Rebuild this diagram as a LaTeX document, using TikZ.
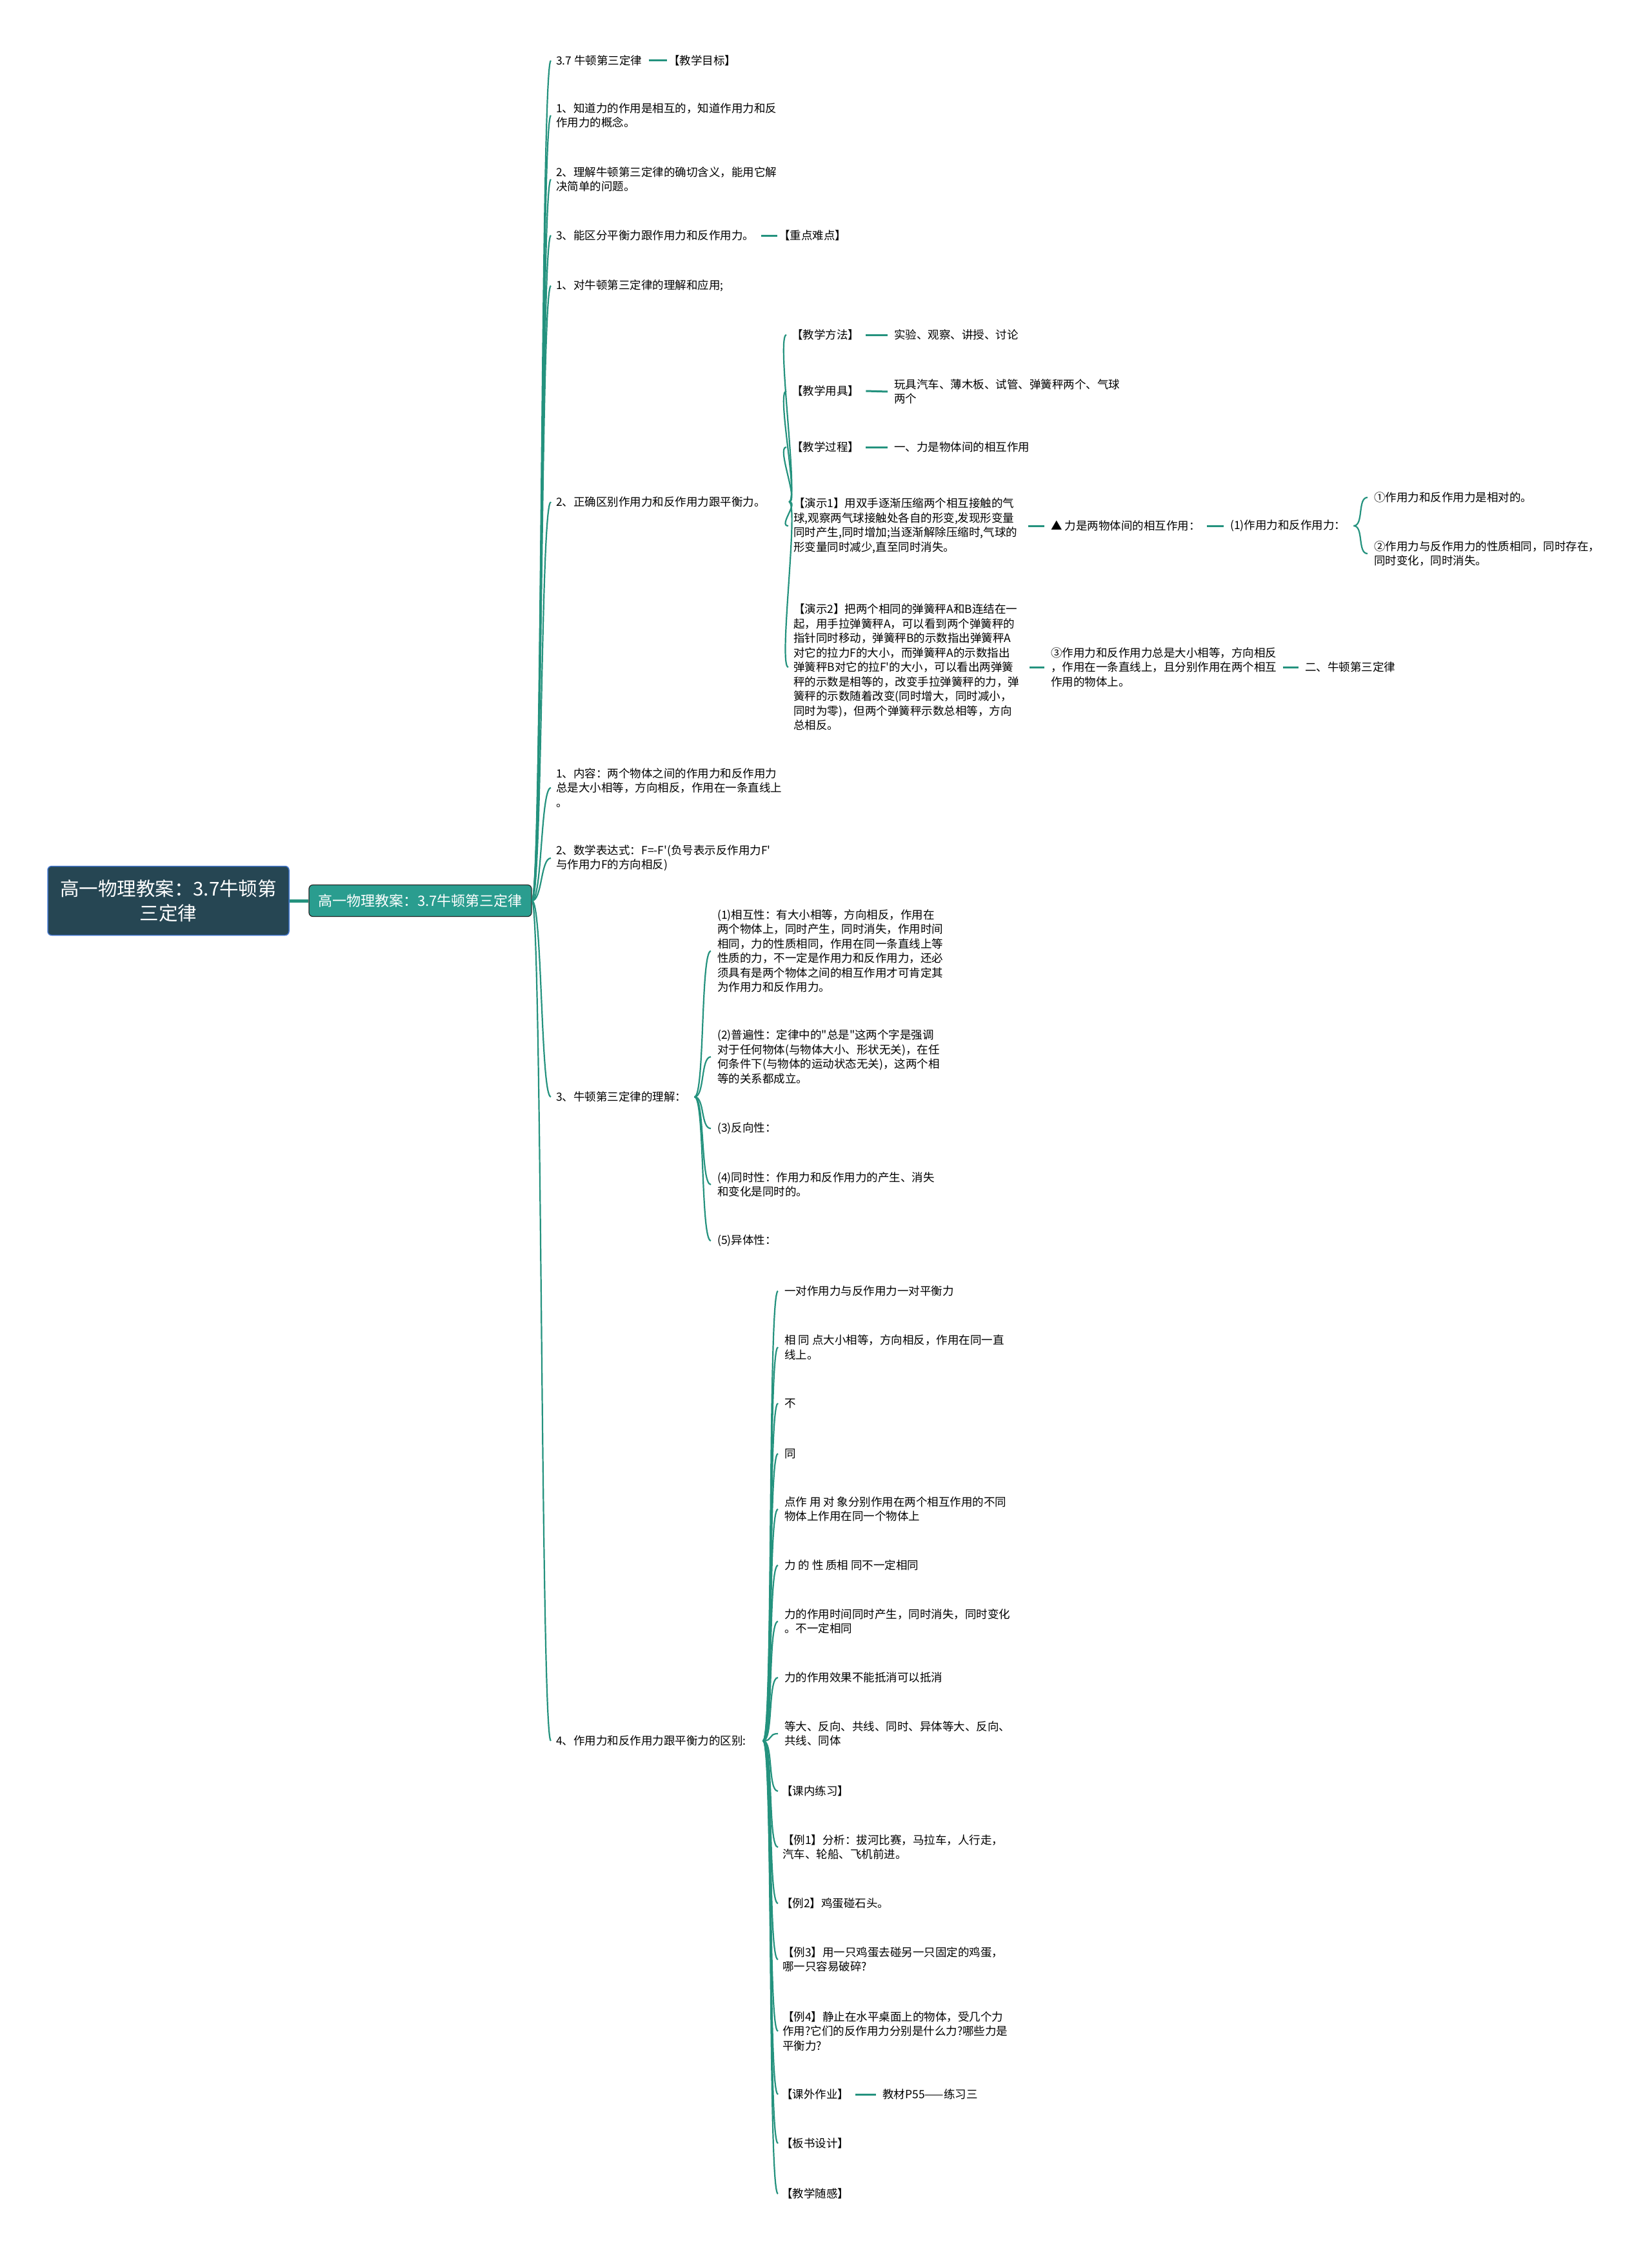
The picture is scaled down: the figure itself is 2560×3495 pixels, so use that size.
\documentclass[tikz,border=0pt]{standalone}
\usepackage{fontspec}
\setmainfont{Noto Sans CJK SC}[Ligatures=TeXOff]
\usetikzlibrary{positioning}

\definecolor{branch}{RGB}{36,146,126}
\definecolor{rootfill}{RGB}{38,70,83}
\definecolor{rootedge}{RGB}{66,118,204}
\definecolor{subfill}{RGB}{42,157,143}

\begin{document}
\begin{tikzpicture}[
    x=1pt, y=-1pt,
    font=\fontsize{17.5}{22.5}\selectfont,
    root/.style={
        draw=rootedge, line width=1.5pt, fill=rootfill, text=white,
        rounded corners=6pt, align=center, inner sep=0pt,
        minimum width=374pt, minimum height=107pt,
        font=\fontsize{29.5}{38}\selectfont,
    },
    sub/.style={
        draw=black!85, line width=1.2pt, fill=subfill, text=white,
        rounded corners=6pt, inner sep=0pt,
        minimum width=345pt, minimum height=49pt,
        font=\fontsize{22}{26}\selectfont,
    },
    leaf/.style={anchor=west, align=left, inner sep=0pt},
    fan/.style={draw=branch, line width=2.2pt,
        to path={.. controls +(16,0) and +(-16,0) .. (\tikztotarget)}},
    link/.style={draw=branch, line width=3pt},
]
\path[fill=white] (0,0) rectangle (2560,3495);

% --- Root and main topic -----------------------------------
\node[root] (root) at (261,1396) {高一物理教案：3.7牛顿第\\三定律};
\node[sub] (mid) at (651.5,1396) {高一物理教案：3.7牛顿第三定律};
\draw[draw=branch, line width=5pt] (root) -- (mid);

% --- First level -------------------------------------------
\node[leaf] (a1) at (862,94) {3.7 牛顿第三定律};
\node[leaf] (a1b) at (1036,94) {【教学目标】};
\node[leaf] (a2) at (862,179) {1、知道力的作用是相互的，知道作用力和反\\作用力的概念。};
\node[leaf] (a3) at (862,278) {2、理解牛顿第三定律的确切含义，能用它解\\决简单的问题。};
\node[leaf] (a4) at (862,365) {3、能区分平衡力跟作用力和反作用力。};
\node[leaf] (a4b) at (1207,365) {【重点难点】};
\node[leaf] (a5) at (862,443) {1、对牛顿第三定律的理解和应用;};
\node[leaf] (a6) at (862,778) {2、正确区别作用力和反作用力跟平衡力。};
\node[leaf] (a7) at (862,1221) {1、内容：两个物体之间的作用力和反作用力\\总是大小相等，方向相反，作用在一条直线上\\。};
\node[leaf] (a8) at (862,1330) {2、数学表达式：F=-F'(负号表示反作用力F'\\与作用力F的方向相反)};
\node[leaf] (a9) at (862,1700) {3、牛顿第三定律的理解：};
\node[leaf] (a10) at (862,2698) {4、作用力和反作用力跟平衡力的区别:};

\draw[fan] (mid.east) to ([xshift=-8pt]a1.west);
\draw[fan] (mid.east) to ([xshift=-8pt]a2.west);
\draw[fan] (mid.east) to ([xshift=-8pt]a3.west);
\draw[fan] (mid.east) to ([xshift=-8pt]a4.west);
\draw[fan] (mid.east) to ([xshift=-8pt]a5.west);
\draw[fan] (mid.east) to ([xshift=-8pt]a6.west);
\draw[fan] (mid.east) to ([xshift=-8pt]a7.west);
\draw[fan] (mid.east) to ([xshift=-8pt]a8.west);
\draw[fan] (mid.east) to ([xshift=-8pt]a9.west);
\draw[fan] (mid.east) to ([xshift=-8pt]a10.west);
\draw[link] ([xshift=10pt]a1.east) -- ([xshift=-2pt]a1b.west);
\draw[link] ([xshift=10pt]a4.east) -- ([xshift=-2pt]a4b.west);

% --- Teaching steps ----------------------------------------
\node[leaf] (b1) at (1227,519) {【教学方法】};
\node[leaf] (b1b) at (1386,519) {实验、观察、讲授、讨论};
\node[leaf] (b2) at (1227,606) {【教学用具】};
\node[leaf] (b2b) at (1386,607) {玩具汽车、薄木板、试管、弹簧秤两个、气球\\两个};
\node[leaf] (b3) at (1227,693) {【教学过程】};
\node[leaf] (b3b) at (1386,693) {一、力是物体间的相互作用};
\node[leaf] (b4) at (1230,815) {【演示1】用双手逐渐压缩两个相互接触的气\\球,观察两气球接触处各自的形变,发现形变量\\同时产生,同时增加;当逐渐解除压缩时,气球的\\形变量同时减少,直至同时消失。};
\node[leaf] (b5) at (1230,1034) {【演示2】把两个相同的弹簧秤A和B连结在一\\起，用手拉弹簧秤A，可以看到两个弹簧秤的\\指针同时移动，弹簧秤B的示数指出弹簧秤A\\对它的拉力F的大小，而弹簧秤A的示数指出\\弹簧秤B对它的拉F'的大小，可以看出两弹簧\\秤的示数是相等的，改变手拉弹簧秤的力，弹\\簧秤的示数随着改变(同时增大，同时减小，\\同时为零)，但两个弹簧秤示数总相等，方向\\总相反。};

\draw[fan] ([xshift=36pt]a6.east) to ([xshift=-8pt]b1.west);
\draw[fan] ([xshift=36pt]a6.east) to ([xshift=-8pt]b2.west);
\draw[fan] ([xshift=36pt]a6.east) to ([xshift=-8pt]b3.west);
\draw[fan] ([xshift=36pt]a6.east) to ([xshift=-8pt]b4.west);
\draw[fan] ([xshift=36pt]a6.east) to ([xshift=-8pt]b5.west);
\draw[link] ([xshift=10pt]b1.east) -- ([xshift=-10pt]b1b.west);
\draw[link] ([xshift=10pt]b2.east) -- ([xshift=-10pt]b2b.west);
\draw[link] ([xshift=10pt]b3.east) -- ([xshift=-10pt]b3b.west);

% --- Demonstrations ----------------------------------------
\node[leaf] (c1) at (1629,815) {▲ 力是两物体间的相互作用：};
\node[leaf] (c2) at (1907,815) {(1)作用力和反作用力：};
\node[leaf] (d1) at (2130,771) {①作用力和反作用力是相对的。};
\node[leaf] (d2) at (2130,858) {②作用力与反作用力的性质相同，同时存在，\\同时变化，同时消失。};
\node[leaf] (c3) at (1629,1034) {③作用力和反作用力总是大小相等，方向相反\\，作用在一条直线上，且分别作用在两个相互\\作用的物体上。};
\node[leaf] (c4) at (2023,1034) {二、牛顿第三定律};

\draw[link] ([xshift=16pt]b4.east) -- ([xshift=-10pt]c1.west);
\draw[link] ([xshift=10pt]c1.east) -- ([xshift=-10pt]c2.west);
\draw[fan] ([xshift=12pt]c2.east) to ([xshift=-10pt]d1.west);
\draw[fan] ([xshift=12pt]c2.east) to ([xshift=-10pt]d2.west);
\draw[link] ([xshift=16pt]b5.east) -- ([xshift=-10pt]c3.west);
\draw[link] ([xshift=10pt]c3.east) -- ([xshift=-10pt]c4.west);

% --- Understanding the third law ---------------------------
\node[leaf] (e1) at (1112,1474) {(1)相互性：有大小相等，方向相反，作用在\\两个物体上，同时产生，同时消失，作用时间\\相同，力的性质相同，作用在同一条直线上等\\性质的力，不一定是作用力和反作用力，还必\\须具有是两个物体之间的相互作用才可肯定其\\为作用力和反作用力。};
\node[leaf] (e2) at (1112,1638) {(2)普遍性：定律中的"总是"这两个字是强调\\对于任何物体(与物体大小、形状无关)，在任\\何条件下(与物体的运动状态无关)，这两个相\\等的关系都成立。};
\node[leaf] (e3) at (1112,1749) {(3)反向性：};
\node[leaf] (e4) at (1112,1836) {(4)同时性：作用力和反作用力的产生、消失\\和变化是同时的。};
\node[leaf] (e5) at (1112,1923) {(5)异体性：};

\draw[fan] ([xshift=12pt]a9.east) to ([xshift=-10pt]e1.west);
\draw[fan] ([xshift=12pt]a9.east) to ([xshift=-10pt]e2.west);
\draw[fan] ([xshift=12pt]a9.east) to ([xshift=-10pt]e3.west);
\draw[fan] ([xshift=12pt]a9.east) to ([xshift=-10pt]e4.west);
\draw[fan] ([xshift=12pt]a9.east) to ([xshift=-10pt]e5.west);

% --- Action pair vs. balanced pair -------------------------
\node[leaf] (f1) at (1216,2001) {一对作用力与反作用力一对平衡力};
\node[leaf] (f2) at (1216,2088) {相 同 点大小相等，方向相反，作用在同一直\\线上。};
\node[leaf] (f3) at (1216,2175) {不};
\node[leaf] (f4) at (1216,2253) {同};
\node[leaf] (f5) at (1216,2339) {点作 用 对 象分别作用在两个相互作用的不同\\物体上作用在同一个物体上};
\node[leaf] (f6) at (1216,2426) {力 的 性 质相 同不一定相同};
\node[leaf] (f7) at (1216,2513) {力的作用时间同时产生，同时消失，同时变化\\。不一定相同};
\node[leaf] (f8) at (1216,2600) {力的作用效果不能抵消可以抵消};
\node[leaf] (f9) at (1216,2687) {等大、反向、共线、同时、异体等大、反向、\\共线、同体};
\node[leaf] (f10) at (1211,2776) {【课内练习】};
\node[leaf] (f11) at (1213,2863) {【例1】分析：拔河比赛，马拉车，人行走，\\汽车、轮船、飞机前进。};
\node[leaf] (f12) at (1211,2950) {【例2】鸡蛋碰石头。};
\node[leaf] (f13) at (1213,3037) {【例3】用一只鸡蛋去碰另一只固定的鸡蛋，\\哪一只容易破碎?};
\node[leaf] (f14) at (1213,3148) {【例4】静止在水平桌面上的物体，受几个力\\作用?它们的反作用力分别是什么力?哪些力是\\平衡力?};
\node[leaf] (f15) at (1211,3246) {【课外作业】};
\node[leaf] (f15b) at (1368,3246) {教材P55——练习三};
\node[leaf] (f16) at (1211,3322) {【板书设计】};
\node[leaf] (f17) at (1211,3400) {【教学随感】};

\draw[fan] ([xshift=26pt]a10.east) to ([xshift=-10pt]f1.west);
\draw[fan] ([xshift=26pt]a10.east) to ([xshift=-10pt]f2.west);
\draw[fan] ([xshift=26pt]a10.east) to ([xshift=-10pt]f3.west);
\draw[fan] ([xshift=26pt]a10.east) to ([xshift=-10pt]f4.west);
\draw[fan] ([xshift=26pt]a10.east) to ([xshift=-10pt]f5.west);
\draw[fan] ([xshift=26pt]a10.east) to ([xshift=-10pt]f6.west);
\draw[fan] ([xshift=26pt]a10.east) to ([xshift=-10pt]f7.west);
\draw[fan] ([xshift=26pt]a10.east) to ([xshift=-10pt]f8.west);
\draw[fan] ([xshift=26pt]a10.east) to ([xshift=-10pt]f9.west);
\draw[fan] ([xshift=26pt]a10.east) to ([xshift=-5pt]f10.west);
\draw[fan] ([xshift=26pt]a10.east) to ([xshift=-7pt]f11.west);
\draw[fan] ([xshift=26pt]a10.east) to ([xshift=-5pt]f12.west);
\draw[fan] ([xshift=26pt]a10.east) to ([xshift=-7pt]f13.west);
\draw[fan] ([xshift=26pt]a10.east) to ([xshift=-7pt]f14.west);
\draw[fan] ([xshift=26pt]a10.east) to ([xshift=-5pt]f15.west);
\draw[fan] ([xshift=26pt]a10.east) to ([xshift=-5pt]f16.west);
\draw[fan] ([xshift=26pt]a10.east) to ([xshift=-5pt]f17.west);
\draw[link] ([xshift=10pt]f15.east) -- ([xshift=-10pt]f15b.west);

\end{tikzpicture}
\end{document}
